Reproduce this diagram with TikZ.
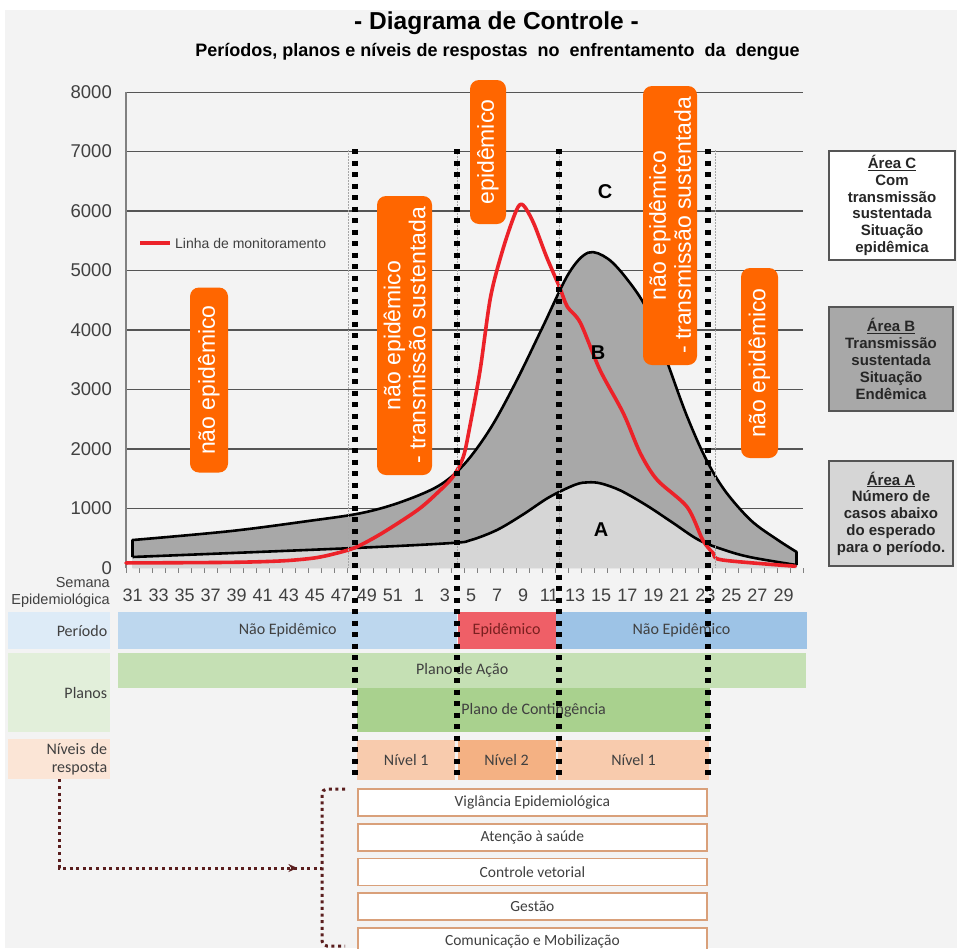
\documentclass[tikz,border=0pt]{standalone}
\usepackage{fontspec}
\setmainfont{Liberation Sans}
\newfontfamily\tabfont{Carlito}
\usetikzlibrary{positioning,arrows.meta,decorations.markings}
\definecolor{bggray}{HTML}{F3F3F3}
\definecolor{orng}{HTML}{FF6600}
\definecolor{redline}{HTML}{EC2229}
\definecolor{areaB}{HTML}{A8A8A8}
\definecolor{areaA}{HTML}{D6D6D6}
\definecolor{gridc}{HTML}{555555}
\definecolor{txtc}{HTML}{404040}
\definecolor{perlab}{HTML}{DDEBF7}
\definecolor{perA}{HTML}{BDD7EE}
\definecolor{perE}{HTML}{EF5F67}
\definecolor{perB}{HTML}{9DC3E6}
\definecolor{epitxt}{HTML}{7A2020}
\definecolor{planlab}{HTML}{E2EFDA}
\definecolor{planA}{HTML}{C5E0B4}
\definecolor{planC}{HTML}{A9D18E}
\definecolor{nivlab}{HTML}{FBE5D6}
\definecolor{niv1}{HTML}{F8CBAD}
\definecolor{niv2}{HTML}{F4B183}
\definecolor{boxline}{HTML}{D9A07A}
\definecolor{maroon}{HTML}{5A1E1E}

\begin{document}
\begin{tikzpicture}[x=1pt,y=-1pt,>=Stealth,
    gridline/.style={draw=gridc,line width=1.1pt},
    tickline/.style={draw=gray,line width=0.8pt},
    ylab/.style={anchor=east,text=txtc,inner sep=0pt,font=\fontsize{18.5}{20}\selectfont},
    wklab/.style={text=txtc,inner sep=0pt,font=\fontsize{18}{20}\selectfont},
    curve/.style={draw=black,line width=2.6pt,line join=round},
    monit/.style={draw=redline,line width=3.6pt,line join=round,line cap=round},
    sepline/.style={draw=black,line width=6pt,dash pattern=on 5pt off 6.5pt},
    thindot/.style={draw=gray!70,line width=1pt,dash pattern=on 1.5pt off 1.5pt},
    orangebox/.style={fill=orng,text=white,rounded corners=9pt,rotate=90,inner sep=0pt,
        align=center,font=\fontsize{23}{25}\selectfont},
    arealetter/.style={inner sep=0pt,font=\fontsize{20}{22}\selectfont\bfseries},
    areabox/.style={draw=gridc,line width=1.3pt,align=center,inner sep=0pt,text=black!85,
        font=\fontsize{15}{16.8}\selectfont\bfseries},
    cell/.style={anchor=north west,inner sep=0pt,text=txtc,font=\tabfont\fontsize{16}{18}\selectfont},
    labcell/.style={cell,align=right,inner xsep=3pt,text width=96pt},
    actbox/.style={anchor=north west,draw=boxline,line width=1.8pt,fill=white,inner sep=0pt,
        minimum width=349pt,minimum height=27pt,text=txtc,font=\tabfont\fontsize{15.5}{17}\selectfont},
    connline/.style={draw=maroon,line width=3pt,dash pattern=on 3pt off 3.6pt}]

    % background
    \fill[white] (0,0) rectangle (957,948);
    \fill[bggray] (5,10) rectangle (957,948);
    \useasboundingbox (0,0) rectangle (957,948);

    %%%%%%%%% title
    \node[font=\fontsize{24.5}{28}\selectfont\bfseries] (title) at (496.5,23) {- Diagrama de Controle -};
    \node[font=\fontsize{18}{20}\selectfont\bfseries] (subtitle) at (497.5,52)
        {Períodos, planos e níveis de respostas~ no~ enfrentamento~ da~ dengue};

    %%%%%%%%% chart
    \begin{scope}[shift={(126,568)},x=13.02pt,y=0.0595pt]
        \foreach \v in {1000,2000,...,8000}
            \draw[gridline] (0,\v) -- (52,\v);
        \foreach \v in {0,1000,...,8000}
            \node[ylab] (yl\v) at ([xshift=-14pt]0,\v) {\v};
        \draw[gridline,draw=gray] (0,0) -- (0,8000);
        \foreach \k in {0,...,52}
            \draw[tickline] (\k,0) -- ++(0pt,-5pt);
        \foreach \w [count=\i from 0] in {31,33,35,37,39,41,43,45,47,49,51,1,3,5,7,9,11,13,15,17,19,21,23,25,27,29}
            \node[wklab,yshift=-27pt] (wk\i) at ({2*\i+0.5},0) {\w};

        % area B and area A
        \fill[areaB] (0.5,0) -- plot[smooth,tension=0.55] coordinates {(0.5,470) (8,620) (14,790) (18,920) (21,1100) (24,1380) (26,1750) (28,2350) (30,3150) (32,4050) (34,4950) (35.5,5300) (37,5200) (38.5,4850) (40,4350) (41.5,3500) (43,2600) (44.5,1850) (46,1300) (48,800) (50,480) (51.5,270)} -- (51.5,0) -- cycle;
        \fill[areaA] (0.5,0) -- plot[smooth,tension=0.55] coordinates {(0.5,185) (17.5,336) (25,420) (26.5,470) (28.5,640) (30.5,900) (32.5,1190) (34.5,1400) (35.5,1440) (36.5,1420) (38,1300) (40,1050) (42,760) (44,470) (46,300) (48,180) (51.5,50)} -- (51.5,0) -- cycle;
        \draw[curve] (0.5,185) -- plot[smooth,tension=0.55] coordinates {(0.5,470) (8,620) (14,790) (18,920) (21,1100) (24,1380) (26,1750) (28,2350) (30,3150) (32,4050) (34,4950) (35.5,5300) (37,5200) (38.5,4850) (40,4350) (41.5,3500) (43,2600) (44.5,1850) (46,1300) (48,800) (50,480) (51.5,270)} -- (51.5,50);
        \draw[curve] plot[smooth,tension=0.55] coordinates {(0.5,185) (17.5,336) (25,420) (26.5,470) (28.5,640) (30.5,900) (32.5,1190) (34.5,1400) (35.5,1440) (36.5,1420) (38,1300) (40,1050) (42,760) (44,470) (46,300) (48,180) (51.5,50)};

        % monitoring line
        \draw[monit] plot[smooth,tension=0.5] coordinates {(0,85) (8,95) (12,120) (14.5,170) (16.2,250) (17.7,353) (19.7,590) (22.4,975) (23.9,1260) (25.1,1530) (25.9,1865) (26.4,2370) (27.2,3330) (28,4555) (29,5395) (30,6020) (30.5,6100) (31.3,5800) (32.3,5230) (33.3,4720) (33.9,4390) (34.9,4120) (36.4,3330) (38.2,2600) (39.5,1930) (40.8,1480) (43.1,1025) (44.3,470) (45.1,250) (45.8,135) (51.4,30)};
    \end{scope}

    % legend
    \coordinate (lg) at (140,243);
    \node[anchor=west,inner sep=0pt,text=txtc,font=\fontsize{14}{16}\selectfont] (leg) at (175,243) {Linha de monitoramento};
    \draw[monit,line cap=butt] (lg) -- ([xshift=-5pt]leg.west);

    % area letters
    \node[arealetter] (lC) at (605,192) {C};
    \node[arealetter] (lB) at (598,353) {B};
    \node[arealetter] (lA) at (601,530) {A};

    %%%%%%%%% period labels
    \node[orangebox,minimum width=185pt,minimum height=38pt] (o1) at (209,380) {não epidêmico};
    \node[orangebox,minimum width=279pt,minimum height=55pt] (o2) at (404.5,335.5) {não epidêmico\\- transmissão sustentada};
    \node[orangebox,minimum width=144pt,minimum height=36pt] (o3) at (488,152) {epidêmico};
    \node[orangebox,minimum width=279pt,minimum height=54pt] (o4) at (670,225.5) {não epidêmico\\- transmissão sustentada};
    \node[orangebox,minimum width=190pt,minimum height=37pt] (o5) at (759.5,363) {não epidêmico};

    %%%%%%%%% area boxes
    \node[areabox,fill=white,minimum width=126pt,minimum height=109pt] (bC) at (892,205.5)
        {\underline{Área C}\\Com\\transmissão\\sustentada\\Situação\\epidêmica};
    \node[areabox,fill=areaB,minimum width=124pt,minimum height=104pt] (bB) at (891,359)
        {\underline{Área B}\\Transmissão\\sustentada\\Situação\\Endêmica};
    \node[areabox,fill=areaA,minimum width=124pt,minimum height=105pt] (bA) at (891,513.5)
        {\underline{Área A}\\Número de\\casos abaixo\\do esperado\\para o período.};

    %%%%%%%%% table
    \node[anchor=east,align=right,inner sep=0pt,text=txtc,font=\fontsize{14.5}{17}\selectfont] (sem) at (110,592.5) {Semana\\Epidemiológica};

    \node[labcell,fill=perlab,minimum height=37pt] (perlab) at (8,612) {Período};
    \node[cell,fill=perA,minimum width=339pt,minimum height=37pt] (per1) at (118,612) {Não Epidêmico};
    \node[cell,fill=perE,minimum width=98pt,minimum height=37pt,text=epitxt,anchor=west,right=0pt of per1] (per2) {Epidêmico};
    \node[cell,fill=perB,minimum width=251pt,minimum height=37pt,anchor=west,right=0pt of per2] (per3) {Não Epidêmico};

    \node[labcell,fill=planlab,minimum height=79pt] (planlab) at (8,653) {Planos};
    \node[cell,fill=planA,minimum width=688pt,minimum height=35pt] (planA) at (118,653) {Plano de Ação};
    \node[cell,fill=planC,minimum width=353pt,minimum height=44pt] (planC) at (357,688) {Plano de Contingência};

    \node[labcell,fill=nivlab,minimum height=40pt] (nivlab) at (8,739) {Níveis de\\resposta};
    \node[cell,fill=niv1,minimum width=98pt,minimum height=40pt] (niv1a) at (357,740) {Nível 1};
    \node[cell,fill=niv2,minimum width=98pt,minimum height=40pt,anchor=west,right=2pt of niv1a] (niv2) {Nível 2};
    \node[cell,fill=niv1,minimum width=151pt,minimum height=40pt,anchor=west,right=2pt of niv2] (niv1b) {Nível 1};

    %%%%%%%%% separators
    \foreach \px in {348,457,559,715}
        \draw[thindot] (\px,150) -- (\px,568);
    \foreach \px in {355,457,559,708}
        \draw[sepline] (\px,149) -- (\px,780);

    %%%%%%%%% response actions
    \node[actbox] (vig) at (357,788) {Viglância Epidemiológica};
    \node[actbox,below=6pt of vig] (ate) {Atenção à saúde};
    \node[actbox,below=6pt of ate] (ctl) {Controle vetorial};
    \node[actbox,below=6pt of ctl] (ges) {Gestão};
    \node[actbox,below=6pt of ges] (com) {Comunicação e Mobilização};

    \coordinate (brt) at (345,789);
    \coordinate (brk) at (322,868);
    \coordinate (brb) at (345,946);
    \draw[connline,rounded corners=5pt] (brt) -| (brk) |- (brb);
    \draw[connline,postaction={decorate,decoration={markings,
        mark=at position 0.93 with {\arrow[maroon]{Stealth[length=9pt,width=8pt]}}}}]
        (nivlab.south) |- (brk);
\end{tikzpicture}
\end{document}
